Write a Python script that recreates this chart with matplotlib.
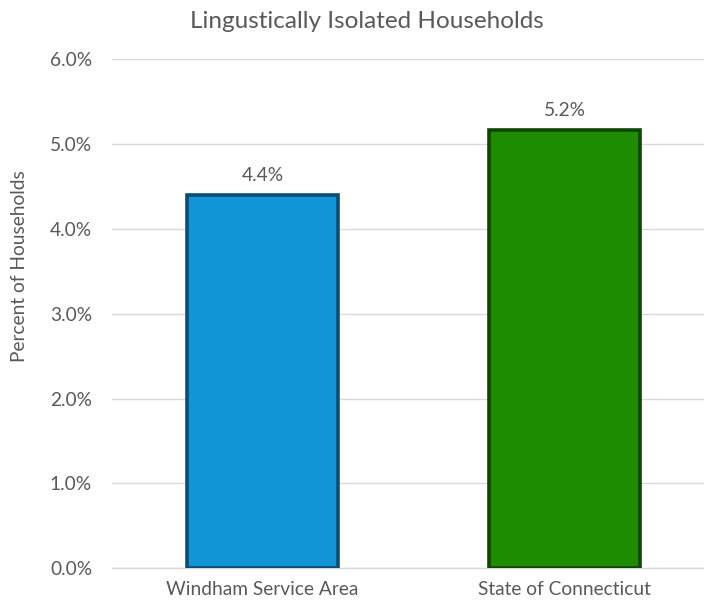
import matplotlib
matplotlib.use("Agg")
import matplotlib.pyplot as plt
from matplotlib.ticker import PercentFormatter, MultipleLocator

categories = ["Windham Service Area", "State of Connecticut"]
values = [0.044, 0.0516]
fill_colors = ["#1195D6", "#1E8C00"]
edge_colors = ["#0B4E74", "#0D4700"]
title = "Lingustically Isolated Households"
ylabel = "Percent of Households"

plt.rcParams['font.family'] = ['Lato', 'DejaVu Sans']
text_color = "#595959"

fig = plt.figure(figsize=(7.04, 6.09), dpi=100)
ax = fig.add_axes([111.5 / 704, (609 - 568.3) / 609, 604 / 704, (568.3 - 59) / 609])

x = list(range(len(categories)))
bars = ax.bar(x, values, width=0.5, color=fill_colors, edgecolor=edge_colors,
              linewidth=2.6, zorder=3)

ax.set_xlim(-0.5, 1.5)
ax.set_ylim(0, 0.06)
ax.yaxis.set_major_locator(MultipleLocator(0.01))
ax.yaxis.set_major_formatter(PercentFormatter(1.0, decimals=1))
ax.grid(axis='y', color="#D9D9D9", linewidth=1.0, zorder=0)
ax.set_axisbelow(True)
for s in ['top', 'right', 'left']:
    ax.spines[s].set_visible(False)
ax.spines['bottom'].set_color("#D9D9D9")
ax.spines['bottom'].set_linewidth(1.0)
ax.tick_params(axis='y', length=0, labelsize=13.8, labelcolor=text_color, pad=14)
ax.tick_params(axis='x', length=0, labelsize=13.8, labelcolor=text_color, pad=9)
ax.set_xticks(x)
ax.set_xticklabels(categories)

fig.text(20 / 704, 1 - 266 / 609, ylabel, rotation=90, ha='center', va='center',
         fontsize=13.8, color=text_color)

for b, v in zip(bars, values):
    ax.annotate(f"{v:.1%}", (b.get_x() + b.get_width() / 2, v),
                xytext=(0, 8), textcoords='offset points',
                ha='center', va='bottom', fontsize=13.8, color=text_color)

fig.text(367 / 704, 1 - 21 / 609, title, ha='center', va='center',
         fontsize=17.5, color=text_color)

fig.savefig("out.png", dpi=100)
